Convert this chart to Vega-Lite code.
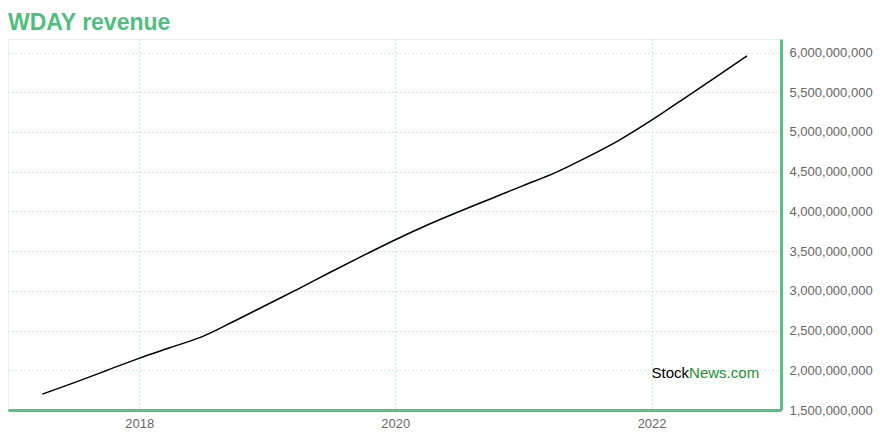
{
  "$schema": "https://vega.github.io/schema/vega-lite/v6.json",
  "width": 773,
  "height": 371,
  "autosize": {"type": "none"},
  "padding": {"left": 8, "top": 39, "right": 99, "bottom": 30},
  "background": "white",
  "config": {
    "font": "Liberation Sans",
    "view": {"stroke": "#eeeeee", "strokeWidth": 1},
    "axis": {
      "labelColor": "#666666",
      "labelFontSize": 13,
      "labelFont": "Liberation Sans",
      "domainColor": "#55c185",
      "domainWidth": 3,
      "ticks": false,
      "gridColor": "#9fdcc0",
      "gridDash": [1, 3],
      "gridWidth": 1,
      "title": null
    }
  },
  "title": {
    "text": "WDAY revenue",
    "anchor": "start",
    "frame": "group",
    "orient": "top",
    "offset": 4,
    "fontSize": 23,
    "fontWeight": "bold",
    "font": "Liberation Sans",
    "color": "#4fbf80"
  },
  "layer": [
    {
      "data": {
        "values": [
          {"date": "2017-03-31", "revenue": 1700000000},
          {"date": "2017-06-30", "revenue": 1845000000},
          {"date": "2017-09-30", "revenue": 1997000000},
          {"date": "2017-12-31", "revenue": 2150000000},
          {"date": "2018-03-31", "revenue": 2286000000},
          {"date": "2018-06-30", "revenue": 2424000000},
          {"date": "2018-09-30", "revenue": 2620000000},
          {"date": "2018-12-31", "revenue": 2825000000},
          {"date": "2019-03-31", "revenue": 3025000000},
          {"date": "2019-06-30", "revenue": 3234000000},
          {"date": "2019-09-30", "revenue": 3440000000},
          {"date": "2019-12-31", "revenue": 3640000000},
          {"date": "2020-03-31", "revenue": 3825000000},
          {"date": "2020-06-30", "revenue": 3995000000},
          {"date": "2020-09-30", "revenue": 4160000000},
          {"date": "2020-12-31", "revenue": 4325000000},
          {"date": "2021-03-31", "revenue": 4485000000},
          {"date": "2021-06-30", "revenue": 4680000000},
          {"date": "2021-09-30", "revenue": 4895000000},
          {"date": "2021-12-31", "revenue": 5145000000},
          {"date": "2022-03-31", "revenue": 5410000000},
          {"date": "2022-06-30", "revenue": 5680000000},
          {"date": "2022-09-30", "revenue": 5957000000}
        ]
      },
      "mark": {"type": "line", "color": "#000000", "strokeWidth": 1.5, "interpolate": "monotone", "clip": true},
      "encoding": {
        "x": {
          "field": "date",
          "type": "temporal",
          "scale": {"domain": [{"year": 2016, "month": 12, "date": 23}, {"year": 2023, "month": 1, "date": 5}], "nice": false},
          "axis": {
            "orient": "bottom",
            "tickCount": {"interval": "year", "step": 2},
            "format": "%Y",
            "labelPadding": 7,
            "grid": true
          }
        },
        "y": {
          "field": "revenue",
          "type": "quantitative",
          "scale": {"domain": [1500000000, 6170000000], "nice": false, "zero": false},
          "axis": {
            "orient": "right",
            "values": [1500000000, 2000000000, 2500000000, 3000000000, 3500000000, 4000000000, 4500000000, 5000000000, 5500000000, 6000000000],
            "format": ",d",
            "labelPadding": 8,
            "grid": true
          }
        }
      }
    },
    {
      "data": {"values": [{}]},
      "mark": {"type": "text", "align": "right", "baseline": "middle", "fontSize": 15, "font": "Liberation Sans", "color": "#000000"},
      "encoding": {
        "x": {"datum": {"year": 2022, "month": 4, "date": 18}, "type": "temporal"},
        "y": {"datum": 1966000000, "type": "quantitative"},
        "text": {"value": "Stock"}
      }
    },
    {
      "data": {"values": [{}]},
      "mark": {"type": "text", "align": "left", "baseline": "middle", "fontSize": 15, "font": "Liberation Sans", "color": "#1e9030"},
      "encoding": {
        "x": {"datum": {"year": 2022, "month": 4, "date": 18}, "type": "temporal"},
        "y": {"datum": 1966000000, "type": "quantitative"},
        "text": {"value": "News.com"}
      }
    }
  ]
}
